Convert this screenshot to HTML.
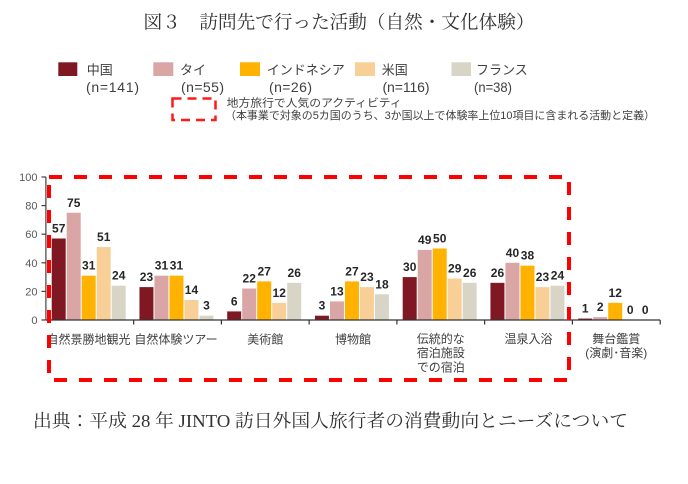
<!DOCTYPE html>
<html>
<head>
<meta charset="utf-8">
<style>
html,body{margin:0;padding:0;background:#fff;}
svg{display:block;}
.g{font-family:"Liberation Sans","Noto Sans CJK JP",sans-serif;}
.m{font-family:"Liberation Serif","Noto Serif CJK JP",serif;}
.v{font-family:"Liberation Sans",sans-serif;font-weight:bold;font-size:12px;fill:#262626;text-anchor:middle;}
.y{font-family:"Liberation Sans",sans-serif;font-size:11px;fill:#595959;text-anchor:end;}
.c{font-family:"Liberation Sans","Noto Sans CJK JP",sans-serif;font-size:12px;fill:#404040;text-anchor:middle;}
.n{font-family:"Liberation Sans",sans-serif;font-size:14px;fill:#404040;}
</style>
</head>
<body>
<svg width="688" height="484" viewBox="0 0 688 484" xmlns="http://www.w3.org/2000/svg">
<rect width="688" height="484" fill="#fff"/>
<!-- Title -->
<text class="m" x="143.5" y="28.5" font-size="18.5" fill="#333" textLength="391" lengthAdjust="spacingAndGlyphs">図３　訪問先で行った活動（自然・文化体験）</text>

<!-- Legend -->
<rect x="58.3" y="62.3" width="19" height="13.7" fill="#801824"/>
<rect x="153.3" y="62.3" width="20" height="13.7" fill="#d9a5a5"/>
<rect x="240" y="62.3" width="20" height="13.7" fill="#ffb300"/>
<rect x="355" y="62.3" width="20" height="13.7" fill="#f8cf97"/>
<rect x="451.5" y="62.3" width="19.5" height="13.7" fill="#d8d4c6"/>
<g class="g" font-size="13" fill="#404040">
<text x="86.7" y="74.5">中国</text>
<text x="180" y="74.5">タイ</text>
<text x="266.7" y="74.5">インドネシア</text>
<text x="381.7" y="74.5">米国</text>
<text x="476" y="74.5">フランス</text>
</g>
<text class="n" x="86" y="92" textLength="53" lengthAdjust="spacing">(n=141)</text>
<text class="n" x="181" y="92" textLength="43" lengthAdjust="spacing">(n=55)</text>
<text class="n" x="269" y="92" textLength="43" lengthAdjust="spacing">(n=26)</text>
<text class="n" x="382.5" y="92" textLength="47" lengthAdjust="spacing">(n=116)</text>
<text class="n" x="474" y="92" textLength="38" lengthAdjust="spacingAndGlyphs">(n=38)</text>
<rect x="172.5" y="98.5" width="43" height="21.5" fill="none" stroke="#ff1a1a" stroke-width="2.5" stroke-dasharray="9 6"/>
<g class="g" font-size="11" fill="#404040">
<text x="226.7" y="106.5" textLength="175" lengthAdjust="spacingAndGlyphs">地方旅行で人気のアクティビティ</text>
<text x="225" y="119" textLength="430" lengthAdjust="spacingAndGlyphs">（本事業で対象の5カ国のうち、3か国以上で体験率上位10項目に含まれる活動と定義）</text>
</g>

<!-- Y axis -->
<g stroke="#404040" stroke-width="1.2">
<line x1="45.9" y1="177" x2="45.9" y2="320"/>
<line x1="41.5" y1="177" x2="45.9" y2="177"/>
<line x1="41.5" y1="205.6" x2="45.9" y2="205.6"/>
<line x1="41.5" y1="234.2" x2="45.9" y2="234.2"/>
<line x1="41.5" y1="262.8" x2="45.9" y2="262.8"/>
<line x1="41.5" y1="291.4" x2="45.9" y2="291.4"/>
<line x1="41.5" y1="320" x2="45.9" y2="320"/>
</g>
<text class="y" x="37.5" y="181">100</text>
<text class="y" x="37.5" y="209.6">80</text>
<text class="y" x="37.5" y="238.2">60</text>
<text class="y" x="37.5" y="266.8">40</text>
<text class="y" x="37.5" y="295.4">20</text>
<text class="y" x="37.5" y="324">0</text>

<!-- Bars -->
<g>
<rect x="51.7" y="238.5" width="14" height="81.5" fill="#801824"/>
<rect x="66.7" y="212.75" width="14" height="107.25" fill="#d9a5a5"/>
<rect x="81.7" y="275.67" width="14" height="44.33" fill="#ffb300"/>
<rect x="96.7" y="247.07" width="14" height="72.93" fill="#f8cf97"/>
<rect x="111.7" y="285.68" width="14" height="34.32" fill="#d8d4c6"/>

<rect x="139.45" y="287.11" width="14" height="32.89" fill="#801824"/>
<rect x="154.45" y="275.67" width="14" height="44.33" fill="#d9a5a5"/>
<rect x="169.45" y="275.67" width="14" height="44.33" fill="#ffb300"/>
<rect x="184.45" y="299.98" width="14" height="20.02" fill="#f8cf97"/>
<rect x="199.45" y="315.71" width="14" height="4.29" fill="#d8d4c6"/>

<rect x="227.2" y="311.42" width="14" height="8.58" fill="#801824"/>
<rect x="242.2" y="288.54" width="14" height="31.46" fill="#d9a5a5"/>
<rect x="257.2" y="281.39" width="14" height="38.61" fill="#ffb300"/>
<rect x="272.2" y="302.84" width="14" height="17.16" fill="#f8cf97"/>
<rect x="287.2" y="282.82" width="14" height="37.18" fill="#d8d4c6"/>

<rect x="314.95" y="315.71" width="14" height="4.29" fill="#801824"/>
<rect x="329.95" y="301.41" width="14" height="18.59" fill="#d9a5a5"/>
<rect x="344.95" y="281.39" width="14" height="38.61" fill="#ffb300"/>
<rect x="359.95" y="287.11" width="14" height="32.89" fill="#f8cf97"/>
<rect x="374.95" y="294.26" width="14" height="25.74" fill="#d8d4c6"/>

<rect x="402.7" y="277.1" width="14" height="42.9" fill="#801824"/>
<rect x="417.7" y="249.93" width="14" height="70.07" fill="#d9a5a5"/>
<rect x="432.7" y="248.5" width="14" height="71.5" fill="#ffb300"/>
<rect x="447.7" y="278.53" width="14" height="41.47" fill="#f8cf97"/>
<rect x="462.7" y="282.82" width="14" height="37.18" fill="#d8d4c6"/>

<rect x="490.45" y="282.82" width="14" height="37.18" fill="#801824"/>
<rect x="505.45" y="262.8" width="14" height="57.2" fill="#d9a5a5"/>
<rect x="520.45" y="265.66" width="14" height="54.34" fill="#ffb300"/>
<rect x="535.45" y="287.11" width="14" height="32.89" fill="#f8cf97"/>
<rect x="550.45" y="285.68" width="14" height="34.32" fill="#d8d4c6"/>

<rect x="578.2" y="318.57" width="14" height="1.43" fill="#801824"/>
<rect x="593.2" y="317.14" width="14" height="2.86" fill="#d9a5a5"/>
<rect x="608.2" y="302.84" width="14" height="17.16" fill="#ffb300"/>
</g>

<!-- X axis -->
<g stroke="#333" stroke-width="1.2">
<line x1="45.9" y1="320" x2="660.2" y2="320"/>
<line x1="133.65" y1="320" x2="133.65" y2="324.5"/>
<line x1="221.4" y1="320" x2="221.4" y2="324.5"/>
<line x1="309.15" y1="320" x2="309.15" y2="324.5"/>
<line x1="396.9" y1="320" x2="396.9" y2="324.5"/>
<line x1="484.65" y1="320" x2="484.65" y2="324.5"/>
<line x1="572.4" y1="320" x2="572.4" y2="324.5"/>
<line x1="660.2" y1="320" x2="660.2" y2="324.5"/>
</g>

<!-- Value labels -->
<text class="v" x="58.7" y="232.5">57</text>
<text class="v" x="73.7" y="206.75">75</text>
<text class="v" x="88.7" y="269.67">31</text>
<text class="v" x="103.7" y="241.07">51</text>
<text class="v" x="118.7" y="279.68">24</text>

<text class="v" x="146.45" y="281.11">23</text>
<text class="v" x="161.45" y="269.67">31</text>
<text class="v" x="176.45" y="269.67">31</text>
<text class="v" x="191.45" y="293.98">14</text>
<text class="v" x="206.45" y="309.71">3</text>

<text class="v" x="234.2" y="305.42">6</text>
<text class="v" x="249.2" y="282.54">22</text>
<text class="v" x="264.2" y="275.39">27</text>
<text class="v" x="279.2" y="296.84">12</text>
<text class="v" x="294.2" y="276.82">26</text>

<text class="v" x="321.95" y="309.71">3</text>
<text class="v" x="336.95" y="295.41">13</text>
<text class="v" x="351.95" y="275.39">27</text>
<text class="v" x="366.95" y="281.11">23</text>
<text class="v" x="381.95" y="288.26">18</text>

<text class="v" x="409.7" y="271.1">30</text>
<text class="v" x="424.7" y="243.93">49</text>
<text class="v" x="439.7" y="242.5">50</text>
<text class="v" x="454.7" y="272.53">29</text>
<text class="v" x="469.7" y="276.82">26</text>

<text class="v" x="497.45" y="276.82">26</text>
<text class="v" x="512.45" y="256.8">40</text>
<text class="v" x="527.45" y="259.66">38</text>
<text class="v" x="542.45" y="281.11">23</text>
<text class="v" x="557.45" y="279.68">24</text>

<text class="v" x="585.2" y="312.57">1</text>
<text class="v" x="600.2" y="311.14">2</text>
<text class="v" x="615.2" y="296.84">12</text>
<text class="v" x="630.2" y="314">0</text>
<text class="v" x="645.2" y="314">0</text>

<!-- Category labels -->
<text class="c" x="88.5" y="343.5">自然景勝地観光</text>
<text class="c" x="176" y="343.5">自然体験ツアー</text>
<text class="c" x="265.3" y="343.5">美術館</text>
<text class="c" x="353" y="343.5">博物館</text>
<text class="c" x="440.8" y="343">伝統的な</text>
<text class="c" x="440.8" y="357.2">宿泊施設</text>
<text class="c" x="440.8" y="371.4">での宿泊</text>
<text class="c" x="528.5" y="343">温泉入浴</text>
<text class="c" x="616.3" y="343">舞台鑑賞</text>
<text class="c" x="616.3" y="357.2">(演劇･音楽)</text>

<!-- Red dashed box -->
<rect x="49" y="177" width="520" height="203" fill="none" stroke="#ff0000" stroke-width="4" stroke-dasharray="13 12"/>

<!-- Source -->
<text class="m" x="33" y="427" font-size="18" fill="#333" textLength="595" lengthAdjust="spacingAndGlyphs">出典：平成 28 年 JINTO 訪日外国人旅行者の消費動向とニーズについて</text>
</svg>
</body>
</html>
